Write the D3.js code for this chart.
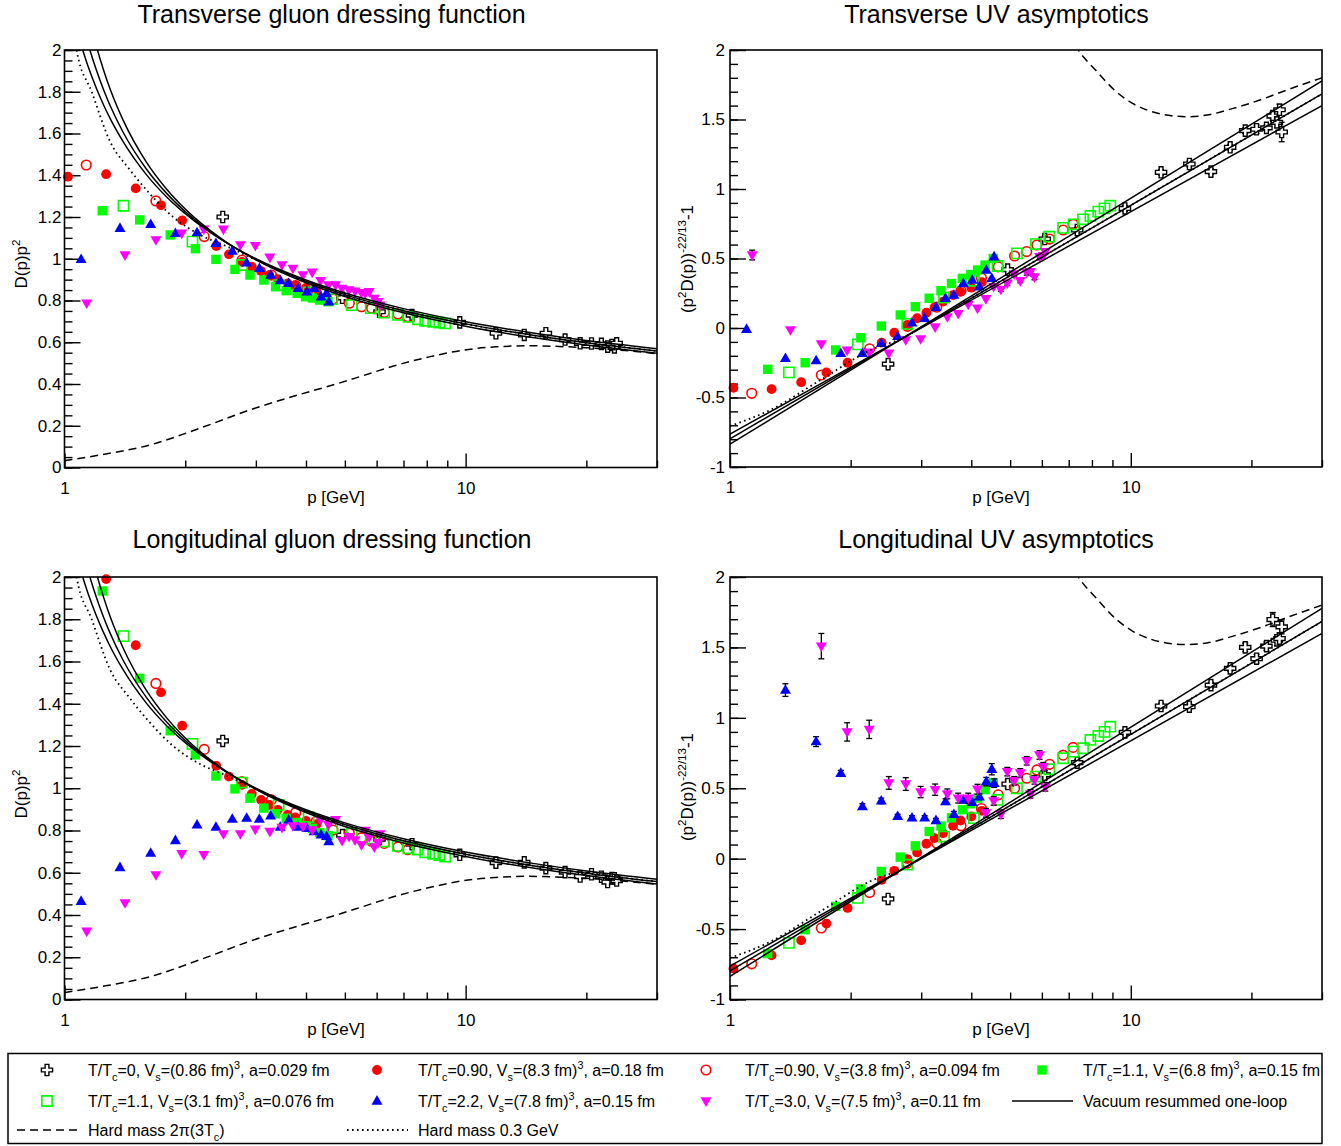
<!DOCTYPE html>
<html><head><meta charset="utf-8">
<script src="https://cdn.jsdelivr.net/npm/d3@7"></script>
<style>
body{margin:0;background:#fff;}
svg{display:block;}
</style></head><body>
<svg id="c" width="1341" height="1146"></svg>
<script>
// ---------------- DATA ----------------
// Lattice series: momentum p [GeV], transverse (T) / longitudinal (L)
// d* = D(p)p^2 ; u* = (p^2 D(p))^(-22/13)-1 ; e* = error on u*
const pCross  = [2.48,4.93,6.1,7.35,9.67,11.9,14.0,15.85,17.7,19.3,20.6,21.8,22.6,23.15,23.5,23.8];
const dTCross = [1.20,0.813,0.746,0.730,0.695,0.643,0.635,0.643,0.613,0.595,0.594,0.592,0.579,0.587,0.575,0.595];
const uTCross = [-0.26,0.42,0.64,0.705,0.86,1.12,1.18,1.125,1.30,1.42,1.43,1.44,1.525,1.48,1.57,1.41];
const eTCross = [0.005,0.01,0.02,0.02,0.02,0.02,0.02,0.02,0.02,0.02,0.03,0.02,0.03,0.04,0.04,0.07];
const dLCross = [1.224,0.778,0.759,0.735,0.685,0.648,0.649,0.622,0.603,0.582,0.593,0.581,0.556,0.575,0.574,0.563];
const uLCross = [-0.286,0.53,0.595,0.682,0.897,1.084,1.079,1.232,1.351,1.50,1.42,1.509,1.698,1.551,1.563,1.646];
const eLCross = [0.005,0.03,0.03,0.02,0.02,0.02,0.02,0.02,0.02,0.03,0.03,0.03,0.05,0.04,0.04,0.05];

const pRedF  = [1.02,1.27,1.505,1.74,1.965,2.39,2.57,2.77,2.93,3.09,3.24,3.40,3.60,3.76,4.0,4.25];
const dTRedF = [1.393,1.405,1.337,1.256,1.184,1.061,1.021,0.985,0.962,0.941,0.922,0.902,0.882,0.872,0.86,0.845];
const uTRedF = [-0.43,-0.44,-0.39,-0.32,-0.25,-0.105,-0.034,0.022,0.07,0.11,0.15,0.19,0.237,0.26,0.29,0.33];
const dLRedF = [2.45,1.99,1.677,1.454,1.296,1.106,1.055,1.016,0.973,0.945,0.921,0.898,0.874,0.862,0.845,0.83];
const uLRedF = [-0.78,-0.686,-0.58,-0.461,-0.35,-0.15,-0.086,-0.003,0.044,0.106,0.146,0.181,0.233,0.271,0.30,0.34];

const pRedO  = [1.133,1.69,2.23,2.77,3.28,3.77,4.24,4.67,5.13,5.5,5.83,6.27,6.78,7.18];
const dTRedO = [1.449,1.277,1.106,0.994,0.922,0.871,0.830,0.807,0.787,0.77,0.763,0.743,0.735,0.722];
const uTRedO = [-0.47,-0.338,-0.15,0.012,0.15,0.268,0.36,0.44,0.518,0.55,0.597,0.64,0.705,0.746];
const dLRedO = [2.25,1.496,1.184,1.031,0.945,0.885,0.843,0.802,0.787,0.766,0.749,0.739,0.722,0.709];
const uLRedO = [-0.747,-0.492,-0.24,-0.031,0.11,0.233,0.356,0.453,0.50,0.571,0.63,0.67,0.735,0.79];

const pGreenF  = [1.242,1.54,1.835,2.12,2.385,2.66,2.90,3.14,3.36,3.57,3.80,3.99,4.15,4.33,4.54];
const dTGreenF = [1.230,1.186,1.114,1.048,0.997,0.949,0.922,0.898,0.866,0.847,0.834,0.818,0.812,0.802,0.794];
const uTGreenF = [-0.297,-0.25,-0.158,-0.07,0.014,0.094,0.153,0.214,0.268,0.32,0.357,0.385,0.417,0.453,0.50];
const dLGreenF = [1.934,1.52,1.272,1.158,1.058,0.997,0.953,0.906,0.879,0.858,0.838,0.823,0.81,0.79,0.775];
const uLGreenF = [-0.674,-0.504,-0.339,-0.215,-0.091,0.011,0.091,0.193,0.232,0.29,0.347,0.39,0.43,0.49,0.54];

const pGreenO  = [1.403,2.085,2.77,3.42,4.06,4.65,5.2,5.8,6.26,6.78,7.2,7.6,7.93,8.3,8.6,8.89];
const dTGreenO = [1.254,1.082,0.970,0.874,0.839,0.807,0.778,0.763,0.742,0.731,0.722,0.71,0.703,0.698,0.694,0.69];
const uTGreenO = [-0.319,-0.118,0.03,0.218,0.34,0.446,0.537,0.604,0.657,0.72,0.746,0.782,0.806,0.837,0.861,0.88];
const dLGreenO = [1.72,1.21,1.027,0.921,0.863,0.814,0.787,0.762,0.748,0.727,0.716,0.710,0.697,0.690,0.684,0.676];
const uLGreenO = [-0.598,-0.279,-0.043,0.157,0.288,0.417,0.50,0.583,0.635,0.713,0.76,0.784,0.843,0.871,0.90,0.937];

const pBlue  = [1.10,1.375,1.64,1.89,2.14,2.385,2.62,2.845,3.06,3.265,3.45,3.62,3.82,4.02,4.19,4.36,4.5,4.56];
const dTBlue = [0.997,1.146,1.165,1.122,1.125,1.074,1.037,0.981,0.954,0.922,0.895,0.882,0.858,0.842,0.858,0.818,0.835,0.794];
const uTBlue = [-0.009,-0.218,-0.235,-0.182,-0.182,-0.11,-0.06,0.038,0.07,0.149,0.214,0.237,0.32,0.345,0.297,0.417,0.357,0.513];
const dLBlue = [0.465,0.625,0.693,0.753,0.827,0.816,0.854,0.859,0.854,0.869,0.816,0.85,0.816,0.811,0.795,0.78,0.772,0.748];
const uLBlue = [2.65,1.197,0.831,0.607,0.37,0.41,0.30,0.29,0.29,0.271,0.405,0.315,0.417,0.40,0.44,0.547,0.635,0.536];
const eLBlue = [0.1,0.045,0.035,0.02,0.02,0.02,0.015,0.015,0.015,0.015,0.02,0.02,0.02,0.02,0.02,0.03,0.04,0.03];

const pMag  = [1.136,1.415,1.69,1.96,2.225,2.49,2.745,2.99,3.25,3.485,3.71,3.93,4.145,4.35,4.55,4.74,4.92,5.12,5.3,5.5,5.62,5.75,5.92,6.05,6.12];
const dTMag = [0.787,1.018,1.09,1.122,1.141,1.141,1.066,1.063,1.007,0.97,0.954,0.922,0.935,0.895,0.874,0.874,0.858,0.85,0.845,0.837,0.834,0.842,0.81,0.794,0.778];
const uTMag = [0.525,-0.014,-0.115,-0.16,-0.174,-0.182,-0.086,-0.078,0.007,0.08,0.103,0.17,0.142,0.21,0.297,0.278,0.323,0.388,0.34,0.40,0.405,0.367,0.513,0.52,0.549];
const eTMag = [0.035,0.005,0.005,0.005,0.005,0.005,0.005,0.005,0.005,0.005,0.005,0.005,0.005,0.01,0.01,0.015,0.015,0.015,0.015,0.02,0.02,0.02,0.02,0.02,0.02];
const dLMag = [0.323,0.457,0.59,0.69,0.685,0.784,0.784,0.806,0.795,0.814,0.822,0.819,0.803,0.85,0.827,0.851,0.752,0.771,0.755,0.732,0.80,0.769,0.722,0.743,0.784];
const uLMag = [5.8,2.76,1.509,0.90,0.918,0.538,0.53,0.473,0.49,0.46,0.43,0.43,0.493,0.325,0.41,0.315,0.618,0.553,0.609,0.695,0.46,0.559,0.736,0.653,0.51];
const eLMag = [0.2,0.15,0.09,0.065,0.065,0.045,0.045,0.04,0.04,0.035,0.035,0.035,0.035,0.03,0.03,0.03,0.03,0.03,0.03,0.03,0.03,0.03,0.03,0.03,0.03];

// Theory curves
const pVacLine = [1, 30];
const uVac1 = [-0.763, 1.600];
const uVac2 = [-0.797, 1.684];
const uVac3 = [-0.836, 1.778];
const pVacCurve = [1.1,1.15,1.2,1.25,1.3,1.4,1.6,1.8,2,2.5,3,4,5,7,10,15,20,30];
const dVac1 = [2.024,1.911,1.818,1.739,1.671,1.561,1.403,1.295,1.216,1.083,1.000,0.898,0.836,0.761,0.698,0.642,0.608,0.569];
const dVac2 = [2.156,2.017,1.905,1.812,1.733,1.606,1.430,1.312,1.226,1.085,0.997,0.892,0.828,0.751,0.688,0.631,0.598,0.558];
const dVac3 = [2.340,2.161,2.020,1.907,1.812,1.664,1.463,1.332,1.238,1.087,0.995,0.885,0.819,0.741,0.677,0.620,0.587,0.547];
const pDotD = [1.06,1.072,1.169,1.30,1.45,1.60,1.866,2.2,2.5,3,4,5,7,10,15,20,30];
const dDot  = [2.12,2.0,1.8,1.56,1.43,1.33,1.2,1.11,1.065,0.995,0.892,0.828,0.751,0.688,0.631,0.598,0.558];
const pDotU = [1,1.26,1.68,2.24,2.7,3,4,6,10,30];
const uDot  = [-0.705,-0.59,-0.375,-0.16,-0.07,0.005,0.214,0.51,0.883,1.684];
const pDashD = [1,1.226,1.633,2.174,2.89,3.86,4.76,5.55,6.72,8.12,9.85,11.9,14.4,17.5,20,25,30];
const dDash  = [0.033,0.06,0.108,0.188,0.275,0.35,0.40,0.44,0.49,0.53,0.562,0.578,0.583,0.579,0.574,0.56,0.545];
const pDashU = [7.0,7.4,8.2,9.2,10.1,11.1,12.8,13.8,15.5,18,21,24.5,30];
const uDash  = [2.12,2.0,1.85,1.70,1.616,1.563,1.525,1.52,1.532,1.58,1.64,1.712,1.80];

// Ticks
const xMajorTicks = [1, 10];
const xTickLabels = ["1", "10"];
const xMinorTicks = [2,3,4,5,6,7,8,9,20,30];
const dMajorTicks = [0,0.2,0.4,0.6,0.8,1,1.2,1.4,1.6,1.8,2];
const dTickLabels = ["0","0.2","0.4","0.6","0.8","1","1.2","1.4","1.6","1.8","2"];
const uMajorTicks = [-1,-0.5,0,0.5,1,1.5,2];
const uTickLabels = ["-1","-0.5","0","0.5","1","1.5","2"];

// Legend texts
const legendLabels = [
  [["T/T",0],["c",1],["=0, V",0],["s",1],["=(0.86 fm)",0],["3",2],[", a=0.029 fm",0]],
  [["T/T",0],["c",1],["=0.90, V",0],["s",1],["=(8.3 fm)",0],["3",2],[", a=0.18 fm",0]],
  [["T/T",0],["c",1],["=0.90, V",0],["s",1],["=(3.8 fm)",0],["3",2],[", a=0.094 fm",0]],
  [["T/T",0],["c",1],["=1.1, V",0],["s",1],["=(6.8 fm)",0],["3",2],[", a=0.15 fm",0]],
  [["T/T",0],["c",1],["=1.1, V",0],["s",1],["=(3.1 fm)",0],["3",2],[", a=0.076 fm",0]],
  [["T/T",0],["c",1],["=2.2, V",0],["s",1],["=(7.8 fm)",0],["3",2],[", a=0.15 fm",0]],
  [["T/T",0],["c",1],["=3.0, V",0],["s",1],["=(7.5 fm)",0],["3",2],[", a=0.11 fm",0]],
  [["Vacuum resummed one-loop",0]],
  [["Hard mass 2π(3T",0],["c",1],[")",0]],
  [["Hard mass 0.3 GeV",0]]
];

// ---------------- DRAWING ----------------
const FONT = "'Liberation Sans', Arial, Helvetica, sans-serif";
const svg = d3.select("#c").attr("font-family", FONT);
const defs = svg.append("defs");

function rich(textSel, parts, size) {
  let cur = 0;
  parts.forEach(([t, m]) => {
    const target = m === 1 ? size * 0.32 : m === 2 ? -size * 0.42 : 0;
    textSel.append("tspan").attr("dy", target - cur)
      .attr("font-size", m ? size * 0.68 : size).text(t);
    cur = target;
  });
}

const circlePath = r => `M${r},0A${r},${r} 0 1,1 ${-r},0A${r},${r} 0 1,1 ${r},0Z`;
const squarePath = h => `M${-h},${-h}H${h}V${h}H${-h}Z`;
function crossPath(r, a) {
  return `M${-a},${-r}H${a}V${-a}H${r}V${a}H${a}V${r}H${-a}V${a}H${-r}V${-a}H${-a}Z`;
}
const markerStyles = {
  cross:   {d: crossPath(5.6, 1.9), fill: "#fff", stroke: "#000", sw: 1.4},
  circleF: {d: circlePath(4.9), fill: "#ff0000", stroke: "none", sw: 0},
  circleO: {d: circlePath(4.8), fill: "none", stroke: "#ff0000", sw: 1.6},
  squareF: {d: squarePath(4.7), fill: "#00ff00", stroke: "none", sw: 0},
  squareO: {d: squarePath(5.1), fill: "none", stroke: "#00ff00", sw: 1.6},
  triUp:   {d: "M0,-5.9L5.5,3.7L-5.5,3.7Z", fill: "#0000ff", stroke: "none", sw: 0},
  triDown: {d: "M0,5.9L5.5,-3.7L-5.5,-3.7Z", fill: "#ff00ff", stroke: "none", sw: 0}
};
function drawMarker(g, type, x, y) {
  const s = markerStyles[type];
  g.append("path").attr("d", s.d).attr("transform", `translate(${x},${y})`)
    .attr("fill", s.fill).attr("stroke", s.stroke).attr("stroke-width", s.sw);
}

const seriesList = [
  {m: "cross",   p: pCross,  dT: dTCross,  uT: uTCross,  eT: eTCross, dL: dLCross,  uL: uLCross,  eL: eLCross},
  {m: "circleF", p: pRedF,   dT: dTRedF,   uT: uTRedF,   dL: dLRedF,   uL: uLRedF},
  {m: "circleO", p: pRedO,   dT: dTRedO,   uT: uTRedO,   dL: dLRedO,   uL: uLRedO},
  {m: "squareF", p: pGreenF, dT: dTGreenF, uT: uTGreenF, dL: dLGreenF, uL: uLGreenF},
  {m: "squareO", p: pGreenO, dT: dTGreenO, uT: uTGreenO, dL: dLGreenO, uL: uLGreenO},
  {m: "triUp",   p: pBlue,   dT: dTBlue,   uT: uTBlue,   dL: dLBlue,   uL: uLBlue,  eL: eLBlue},
  {m: "triDown", p: pMag,    dT: dTMag,    uT: uTMag,    eT: eTMag, dL: dLMag, uL: uLMag, eL: eLMag}
];

const panels = [
  {id: 0, x0: 64.5, x1: 657, yt: 50, yb: 467.5, kind: "D", trans: true,
   title: "Transverse gluon dressing function", tx: 331.5, ty: 23, xtx: 336, xty: 503, ytx: 27, yty: 264, pad: 3},
  {id: 1, x0: 730, x1: 1322, yt: 50, yb: 467, kind: "U", trans: true,
   title: "Transverse UV asymptotics", tx: 996.5, ty: 23, xtx: 1001, xty: 503, ytx: 693, yty: 259, pad: 5},
  {id: 2, x0: 64.5, x1: 657, yt: 577, yb: 999.5, kind: "D", trans: false,
   title: "Longitudinal gluon dressing function", tx: 332, ty: 548, xtx: 336, xty: 1035, ytx: 27, yty: 794, pad: 3},
  {id: 3, x0: 730, x1: 1322, yt: 577, yb: 999.5, kind: "U", trans: false,
   title: "Longitudinal UV asymptotics", tx: 996, ty: 548, xtx: 1001, xty: 1035, ytx: 693, yty: 787, pad: 5}
];

panels.forEach(pan => {
  const isD = pan.kind === "D";
  const dom = isD ? [0, 2] : [-1, 2];
  const x = d3.scaleLog().domain([1, 30]).range([pan.x0, pan.x1]);
  const y = d3.scaleLinear().domain(dom).range([pan.yb, pan.yt]);
  const g = svg.append("g");

  const cid = "clip" + pan.id;
  defs.append("clipPath").attr("id", cid).append("rect")
    .attr("x", pan.x0).attr("y", pan.yt).attr("width", pan.x1 - pan.x0).attr("height", pan.yb - pan.yt);

  const styleAxis = s => {
    s.select(".domain").remove();
    s.attr("font-family", FONT).attr("font-size", 17);
    s.selectAll("line").attr("stroke", "#000").attr("stroke-width", 1.4);
    s.selectAll("text").attr("fill", "#000");
  };
  g.append("g").attr("transform", `translate(0,${pan.yb})`)
    .call(d3.axisBottom(x).tickValues(xMajorTicks).tickSize(-14).tickPadding(14)
      .tickFormat((d, i) => xTickLabels[i])).call(styleAxis);
  g.append("g").attr("transform", `translate(0,${pan.yb})`)
    .call(d3.axisBottom(x).tickValues(xMinorTicks).tickSize(-7).tickFormat("")).call(styleAxis);

  const majors = isD ? dMajorTicks : uMajorTicks;
  const labels = isD ? dTickLabels : uTickLabels;
  const minorStep = isD ? 0.05 : 0.1;
  const minors = d3.range(dom[0], dom[1] + 1e-9, minorStep);
  g.append("g").attr("transform", `translate(${pan.x0},0)`)
    .call(d3.axisLeft(y).tickValues(majors).tickSize(-16).tickPadding(pan.pad)
      .tickFormat((d, i) => labels[i])).call(styleAxis);
  g.append("g").attr("transform", `translate(${pan.x0},0)`)
    .call(d3.axisLeft(y).tickValues(minors).tickSize(-8).tickFormat("")).call(styleAxis);

  // data
  const dg = g.append("g");
  seriesList.forEach(s => {
    const vals = isD ? (pan.trans ? s.dT : s.dL) : (pan.trans ? s.uT : s.uL);
    const errs = isD ? null : (pan.trans ? s.eT : s.eL);
    s.p.forEach((pv, i) => {
      const v = vals[i];
      if (v < dom[0] || v > dom[1]) return;
      const cx = x(pv), cy = y(v);
      if (errs && errs[i] > 0.012) {
        const e = errs[i];
        const ya = y(Math.max(dom[0], v - e)), yb = y(Math.min(dom[1], v + e));
        dg.append("line").attr("x1", cx).attr("x2", cx).attr("y1", ya).attr("y2", yb)
          .attr("stroke", "#000").attr("stroke-width", 1.3);
        [ya, yb].forEach(yy => dg.append("line").attr("x1", cx - 3).attr("x2", cx + 3)
          .attr("y1", yy).attr("y2", yy).attr("stroke", "#000").attr("stroke-width", 1.3));
      }
      drawMarker(dg, s.m, cx, cy);
    });
  });

  // theory curves
  const tg = g.append("g").attr("clip-path", `url(#${cid})`).attr("fill", "none").attr("stroke", "#000");
  const line = d3.line().x(d => x(d[0])).y(d => y(d[1])).curve(d3.curveMonotoneX);
  const zipP = (ps, vs) => ps.map((p, i) => [p, vs[i]]);
  if (isD) {
    [dVac1, dVac2, dVac3].forEach(arr =>
      tg.append("path").attr("d", line(zipP(pVacCurve, arr))).attr("stroke-width", 1.5));
    tg.append("path").attr("d", line(zipP(pDotD, dDot))).attr("stroke-width", 1.8).attr("stroke-dasharray", "1.6,3.4");
    tg.append("path").attr("d", line(zipP(pDashD, dDash))).attr("stroke-width", 1.5).attr("stroke-dasharray", "8,5");
  } else {
    [uVac1, uVac2, uVac3].forEach(arr =>
      tg.append("path").attr("d", line(zipP(pVacLine, arr))).attr("stroke-width", 1.5));
    tg.append("path").attr("d", line(zipP(pDotU, uDot))).attr("stroke-width", 1.8).attr("stroke-dasharray", "1.6,3.4");
    tg.append("path").attr("d", line(zipP(pDashU, uDash))).attr("stroke-width", 1.5).attr("stroke-dasharray", "8,5");
  }

  // frame
  g.append("rect").attr("x", pan.x0).attr("y", pan.yt).attr("width", pan.x1 - pan.x0)
    .attr("height", pan.yb - pan.yt).attr("fill", "none").attr("stroke", "#000").attr("stroke-width", 1.6);

  // titles
  svg.append("text").attr("x", pan.tx).attr("y", pan.ty).attr("text-anchor", "middle")
    .attr("font-size", 25).text(pan.title);
  svg.append("text").attr("x", pan.xtx).attr("y", pan.xty).attr("text-anchor", "middle")
    .attr("font-size", 17).text("p [GeV]");
  const yt = svg.append("text").attr("transform", `translate(${pan.ytx},${pan.yty}) rotate(-90)`)
    .attr("text-anchor", "middle");
  if (isD) rich(yt, [["D(p)p", 0], ["2", 2]], 17);
  else rich(yt, [["(p", 0], ["2", 2], ["D(p))", 0], ["-22/13", 2], ["-1", 0]], 17);
});

// ---------------- LEGEND ----------------
defs.append("clipPath").attr("id", "legclip").append("rect")
  .attr("x", 0).attr("y", 1040).attr("width", 1322).attr("height", 110);
const lg = svg.append("g");
lg.append("rect").attr("x", 8).attr("y", 1053.5).attr("width", 1314).attr("height", 90)
  .attr("fill", "#fff").attr("stroke", "#000").attr("stroke-width", 1.5);
const colSym = [47, 377, 706, 1042];
const colTxt = [88, 418, 745, 1083];
const rowY = [1070, 1101, 1130];
const legendSymbols = ["cross", "circleF", "circleO", "squareF", "squareO", "triUp", "triDown", "solid", "dashed", "dotted"];
const lt = lg.append("g").attr("clip-path", "url(#legclip)");
legendSymbols.forEach((sym, i) => {
  const col = i % 4, row = Math.floor(i / 4);
  const cy = rowY[row];
  if (markerStyles[sym]) drawMarker(lt, sym, colSym[col], cy);
  else {
    const ln = lt.append("line").attr("x1", colSym[col] - 30).attr("x2", colSym[col] + 31)
      .attr("y1", cy).attr("y2", cy).attr("stroke", "#000").attr("stroke-width", 1.5);
    if (sym === "dashed") ln.attr("stroke-dasharray", "8,5");
    if (sym === "dotted") ln.attr("stroke-dasharray", "1.6,3.4").attr("stroke-width", 1.8);
  }
  const t = lt.append("text").attr("x", colTxt[col]).attr("y", cy + 6);
  rich(t, legendLabels[i], 16);
});
</script>
</body></html>
